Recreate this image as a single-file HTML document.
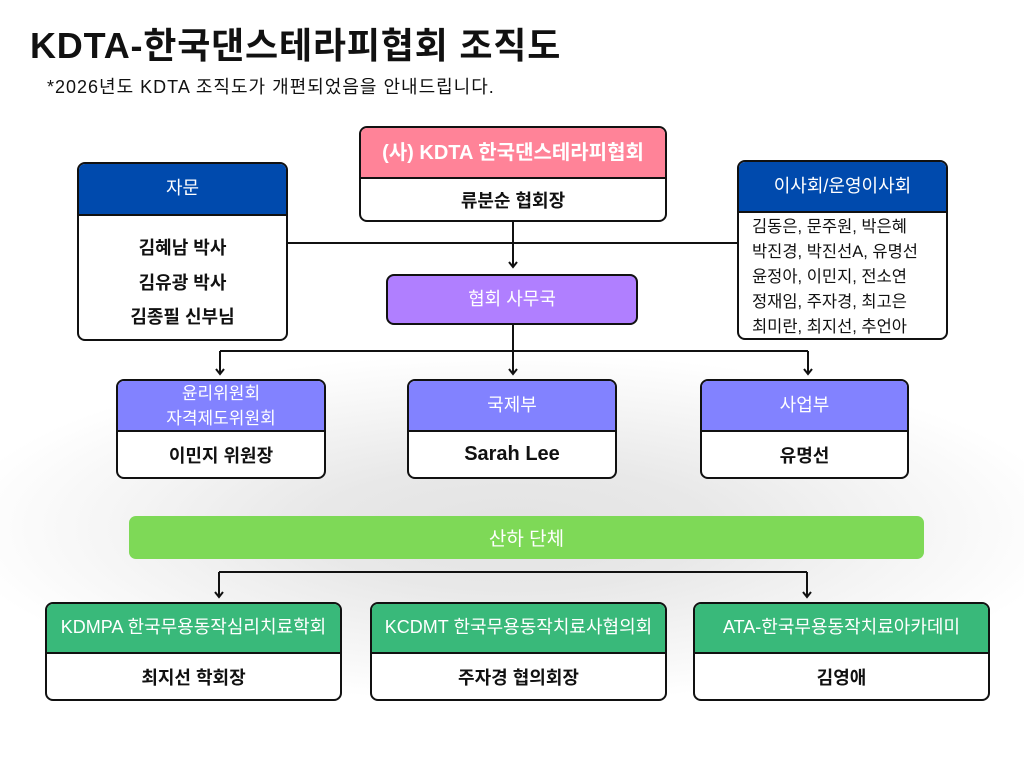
<!DOCTYPE html>
<html><head><meta charset="utf-8">
<style>
*{box-sizing:border-box;margin:0;padding:0}
html,body{width:1024px;height:768px;overflow:hidden}
body{position:relative;font-family:"Liberation Sans","Noto Sans CJK KR",sans-serif;color:#111;
background:radial-gradient(ellipse 560px 175px at 512px 528px,#e3e3e3 0%,#e8e8e8 35%,#f4f4f4 68%,#ffffff 100%);}
.t{position:absolute;white-space:nowrap}
.box{position:absolute;border:2px solid #111;border-radius:8px;background:#fff;overflow:hidden}
.hd{position:absolute;left:0;right:0;top:0;border-bottom:2px solid #111;color:#fff;display:flex;align-items:center;justify-content:center;text-align:center;white-space:nowrap;line-height:1.2}
.bd{position:absolute;left:0;right:0;bottom:0;display:flex;align-items:center;justify-content:center;font-weight:bold;font-size:18px;white-space:nowrap}
svg{position:absolute;left:0;top:0}
</style></head><body>
<div class="t" style="left:30px;top:25px;font-size:36px;font-weight:bold;line-height:42px;letter-spacing:0.8px">KDTA-한국댄스테라피협회 조직도</div>
<div class="t" style="left:47px;top:76px;font-size:18px;line-height:22px;letter-spacing:1px">*2026년도 KDTA 조직도가 개편되었음을 안내드립니다.</div>

<svg width="1024" height="768" viewBox="0 0 1024 768" fill="none" stroke="#111" stroke-width="2">
<path d="M288 243H737"/>
<path d="M513 222V267"/>
<polyline points="509,262 513,267 517,262"/>
<path d="M513 325V350"/>
<path d="M220 351H808"/>
<path d="M220 351V374"/><polyline points="216,369 220,374 224,369"/>
<path d="M513 351V374"/><polyline points="509,369 513,374 517,369"/>
<path d="M808 351V374"/><polyline points="804,369 808,374 812,369"/>
<path d="M219 572H807"/>
<path d="M219 572V597"/><polyline points="215,592 219,597 223,592"/>
<path d="M807 572V597"/><polyline points="803,592 807,597 811,592"/>
</svg>

<!-- top node -->
<div class="box" style="left:359px;top:126px;width:308px;height:96px">
  <div class="hd" style="height:51px;background:#ff8398;font-size:20px;font-weight:bold">(사) KDTA 한국댄스테라피협회</div>
  <div class="bd" style="top:51px">류분순 협회장</div>
</div>

<!-- 자문 -->
<div class="box" style="left:77px;top:162px;width:211px;height:179px">
  <div class="hd" style="height:52px;background:#004aad;font-size:18px">자문</div>
  <div class="t" style="left:0;right:0;top:67px;text-align:center;font-weight:bold;font-size:18px;line-height:34.5px">김혜남 박사<br>김유광 박사<br>김종필 신부님</div>
</div>

<!-- 이사회 -->
<div class="box" style="left:737px;top:160px;width:211px;height:180px">
  <div class="hd" style="height:51px;background:#004aad;font-size:18px">이사회/운영이사회</div>
  <div class="t" style="left:13px;top:53px;font-size:16.5px;line-height:25px">김동은, 문주원, 박은혜<br>박진경, 박진선A, 유명선<br>윤정아, 이민지, 전소연<br>정재임, 주자경, 최고은<br>최미란, 최지선, 추언아</div>
</div>

<!-- 사무국 -->
<div class="box" style="left:386px;top:274px;width:252px;height:51px;background:#b07fff">
  <div class="hd" style="height:47px;border-bottom:none;font-size:18px">협회 사무국</div>
</div>

<!-- row 2 -->
<div class="box" style="left:116px;top:379px;width:210px;height:100px">
  <div class="hd" style="height:51px;background:#8282ff;font-size:17px;line-height:25px">윤리위원회<br>자격제도위원회</div>
  <div class="bd" style="top:51px">이민지 위원장</div>
</div>
<div class="box" style="left:407px;top:379px;width:210px;height:100px">
  <div class="hd" style="height:51px;background:#8282ff;font-size:18px">국제부</div>
  <div class="bd" style="top:51px;font-size:20px">Sarah Lee</div>
</div>
<div class="box" style="left:700px;top:379px;width:209px;height:100px">
  <div class="hd" style="height:51px;background:#8282ff;font-size:18px">사업부</div>
  <div class="bd" style="top:51px">유명선</div>
</div>

<!-- 산하 단체 -->
<div class="t" style="left:129px;top:516px;width:795px;height:43px;background:#7ed957;border-radius:7px;color:#fff;font-size:19px;display:flex;align-items:center;justify-content:center">산하 단체</div>

<!-- row 3 -->
<div class="box" style="left:45px;top:602px;width:297px;height:99px">
  <div class="hd" style="height:50px;background:#39b97a;font-size:18px">KDMPA 한국무용동작심리치료학회</div>
  <div class="bd" style="top:50px">최지선 학회장</div>
</div>
<div class="box" style="left:370px;top:602px;width:297px;height:99px">
  <div class="hd" style="height:50px;background:#39b97a;font-size:18px">KCDMT 한국무용동작치료사협의회</div>
  <div class="bd" style="top:50px">주자경 협의회장</div>
</div>
<div class="box" style="left:693px;top:602px;width:297px;height:99px">
  <div class="hd" style="height:50px;background:#39b97a;font-size:18px">ATA-한국무용동작치료아카데미</div>
  <div class="bd" style="top:50px">김영애</div>
</div>
</body></html>
